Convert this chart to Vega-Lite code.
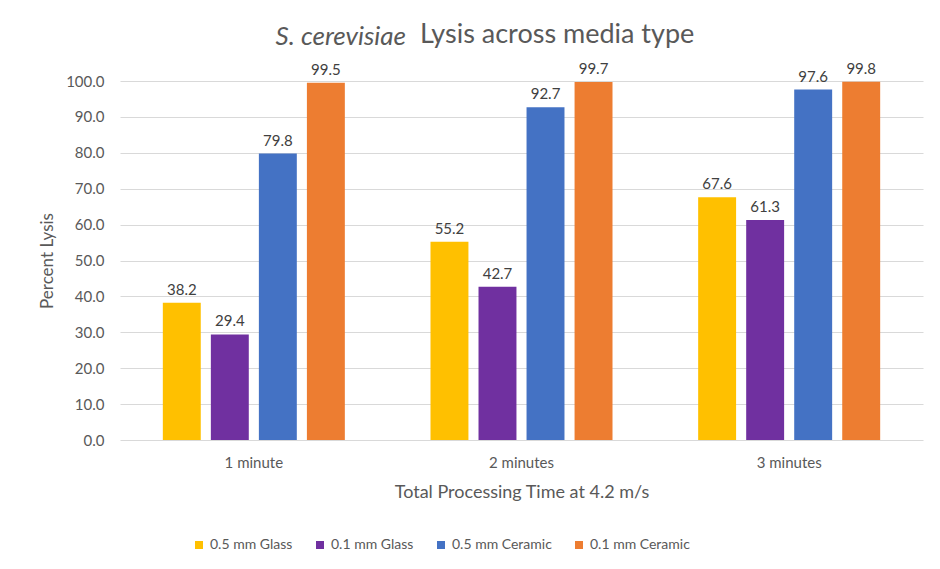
{
  "$schema": "https://vega.github.io/schema/vega-lite/v6.json",
  "width": 803,
  "height": 359,
  "autosize": {"type": "none"},
  "padding": {"left": 120, "top": 81, "right": 17, "bottom": 129},
  "background": "white",
  "title": {
    "text": "Lysis across media type",
    "font": "Lato",
    "fontSize": 27,
    "fontWeight": "normal",
    "color": "#595959",
    "anchor": "start",
    "frame": "group",
    "dx": 300,
    "dy": 47,
    "baseline": "alphabetic",
    "offset": 0
  },
  "data": {
    "values": [
      {"time": "1 minute", "media": "0.5 mm Glass", "value": 38.2},
      {"time": "1 minute", "media": "0.1 mm Glass", "value": 29.4},
      {"time": "1 minute", "media": "0.5 mm Ceramic", "value": 79.8},
      {"time": "1 minute", "media": "0.1 mm Ceramic", "value": 99.5},
      {"time": "2 minutes", "media": "0.5 mm Glass", "value": 55.2},
      {"time": "2 minutes", "media": "0.1 mm Glass", "value": 42.7},
      {"time": "2 minutes", "media": "0.5 mm Ceramic", "value": 92.7},
      {"time": "2 minutes", "media": "0.1 mm Ceramic", "value": 99.7},
      {"time": "3 minutes", "media": "0.5 mm Glass", "value": 67.6},
      {"time": "3 minutes", "media": "0.1 mm Glass", "value": 61.3},
      {"time": "3 minutes", "media": "0.5 mm Ceramic", "value": 97.6},
      {"time": "3 minutes", "media": "0.1 mm Ceramic", "value": 99.8}
    ]
  },
  "encoding": {
    "x": {
      "field": "time",
      "type": "nominal",
      "sort": ["1 minute", "2 minutes", "3 minutes"],
      "scale": {"paddingInner": 0.32, "paddingOuter": 0.16}
    },
    "xOffset": {
      "field": "media",
      "type": "nominal",
      "sort": ["0.5 mm Glass", "0.1 mm Glass", "0.5 mm Ceramic", "0.1 mm Ceramic"],
      "scale": {"paddingInner": 0.21, "paddingOuter": 0}
    },
    "y": {
      "field": "value",
      "type": "quantitative",
      "scale": {"domain": [0, 100], "nice": false},
      "axis": {
        "title": "Percent Lysis",
        "values": [0, 10, 20, 30, 40, 50, 60, 70, 80, 90, 100],
        "format": ".1f",
        "grid": true,
        "gridColor": "#D9D9D9",
        "gridWidth": 1,
        "domain": false,
        "ticks": false,
        "labelPadding": 16,
        "labelFont": "Lato",
        "labelFontSize": 15,
        "labelColor": "#595959",
        "titleFont": "Lato",
        "titleFontSize": 17,
        "titleFontWeight": "normal",
        "titleColor": "#595959",
        "titlePadding": 9
      }
    }
  },
  "layer": [
    {
      "mark": {"type": "bar"},
      "encoding": {
        "x": {
          "field": "time",
          "type": "nominal",
          "sort": ["1 minute", "2 minutes", "3 minutes"],
          "axis": {
            "orient": "bottom",
            "title": "Total Processing Time at 4.2 m/s",
            "labelAngle": 0,
            "domain": false,
            "ticks": false,
            "grid": false,
            "labelPadding": 15,
            "labelFont": "Lato",
            "labelFontSize": 15,
            "labelColor": "#595959",
            "titleFont": "Lato",
            "titleFontSize": 18,
            "titleFontWeight": "normal",
            "titleColor": "#595959",
            "titlePadding": 13
          }
        },
        "color": {
          "field": "media",
          "type": "nominal",
          "sort": ["0.5 mm Glass", "0.1 mm Glass", "0.5 mm Ceramic", "0.1 mm Ceramic"],
          "scale": {
            "domain": ["0.5 mm Glass", "0.1 mm Glass", "0.5 mm Ceramic", "0.1 mm Ceramic"],
            "range": ["#FFC000", "#7030A0", "#4472C4", "#ED7D31"]
          },
          "legend": {
            "title": null,
            "orient": "none",
            "legendX": 72,
            "legendY": 457,
            "direction": "horizontal",
            "symbolType": "square",
            "symbolSize": 64,
            "symbolStrokeWidth": 0,
            "labelFont": "Lato",
            "labelFontSize": 14,
            "labelColor": "#595959",
            "labelOffset": 4,
            "columnPadding": 20
          }
        }
      }
    },
    {
      "mark": {
        "type": "text",
        "baseline": "alphabetic",
        "dy": -8,
        "font": "Lato",
        "fontSize": 15,
        "color": "#404040"
      },
      "encoding": {
        "x": {
          "field": "time",
          "type": "nominal",
          "sort": ["1 minute", "2 minutes", "3 minutes"],
          "axis": {
            "orient": "top",
            "title": "S. cerevisiae",
            "labels": false,
            "ticks": false,
            "domain": false,
            "grid": false,
            "titleFont": "Lato",
            "titleFontSize": 26,
            "titleFontStyle": "italic",
            "titleFontWeight": "normal",
            "titleColor": "#595959",
            "titleAlign": "left",
            "titleAnchor": "start",
            "titleX": 155,
            "titleY": -37,
            "titleBaseline": "alphabetic",
            "titleAngle": 0
          }
        },
        "text": {"field": "value", "type": "quantitative", "format": ".1f"}
      }
    }
  ],
  "resolve": {"axis": {"x": "independent"}},
  "config": {
    "font": "Lato",
    "view": {"stroke": null}
  }
}
